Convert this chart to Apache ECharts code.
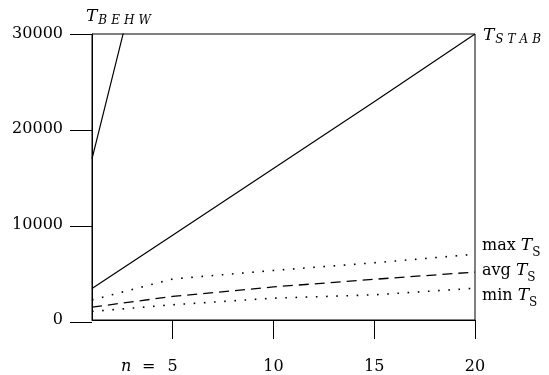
<!DOCTYPE html>
<html>
<head>
<meta charset="utf-8">
<script src="https://cdn.jsdelivr.net/npm/echarts@6/dist/echarts.min.js"></script>
<style>html,body{margin:0;padding:0;background:#fff}#c{width:549px;height:375px}</style>
</head>
<body>
<div id="c"></div>
<script>
var nValues = [1, 5, 10, 15, 20];
var behwN = [1, 2, 3];
var behwValues = [16900, 25400, 33900];
var stabValues = [3300, 8900, 15900, 22900, 30000];
var maxValues = [2100, 4300, 5200, 6000, 6900];
var avgValues = [1350, 2470, 3470, 4270, 5030];
var minValues = [900, 1600, 2290, 2640, 3330];
var xTicks = [5, 10, 15, 20];

var FONT = 'DejaVu Serif';
function pairs(xs, ys) { return xs.map(function (x, i) { return [x, ys[i]]; }); }

var mainTok = { fontFamily: FONT, fontWeight: 'normal', fontSize: 16, color: '#000', lineHeight: 18, verticalAlign: 'bottom', padding: [0, 0, 5, 0] };
var tTok = { fontFamily: FONT, fontWeight: 'normal', fontStyle: 'italic', fontSize: 17, color: '#000', lineHeight: 18, verticalAlign: 'bottom', padding: [0, 0, 5, 0] };
var sTok = { fontFamily: FONT, fontWeight: 'normal', fontSize: 12, color: '#000', lineHeight: 12, verticalAlign: 'bottom' };
var richTS = { m: mainTok, t: tTok, s: sTok };

var capT = { fontFamily: FONT, fontWeight: 'normal', fontStyle: 'italic', fontSize: 17, color: '#000', lineHeight: 18, verticalAlign: 'bottom', padding: [0, 1, 2, 0] };
var capS = { fontFamily: FONT, fontWeight: 'normal', fontStyle: 'italic', fontSize: 12, color: '#000', lineHeight: 12, verticalAlign: 'bottom', padding: [0, 4, 0, 0] };
function capLabel(sub) {
  return '{T|T}' + sub.split('').map(function (c) { return '{c|' + c + '}'; }).join('');
}

var chart = echarts.init(document.getElementById('c'), null, { renderer: 'canvas' });
chart.setOption({
  animation: false,
  backgroundColor: '#fff',
  title: [
    { text: capLabel('BEHW'), left: 86, top: 9, padding: 0, textStyle: { fontWeight: 'normal', rich: { T: capT, c: capS } } },
    { text: 'n', left: 121, top: 358, padding: 0, textStyle: { fontFamily: FONT, fontStyle: 'italic', fontWeight: 'normal', fontSize: 16, lineHeight: 18, color: '#000' } },
    { text: '=', left: 142, top: 358, padding: 0, textStyle: { fontFamily: FONT, fontWeight: 'normal', fontSize: 16, lineHeight: 18, color: '#000' } }
  ],
  grid: [
    { left: 92, right: 74, top: 34, bottom: 53, show: true, borderColor: '#000', borderWidth: 1 },
    { left: 70, width: 22, top: 34, bottom: 53, show: false }
  ],
  xAxis: [{
    type: 'value', min: 1, max: 20, gridIndex: 0,
    axisLine: { show: true, lineStyle: { color: '#000', width: 1 } },
    axisTick: { show: true, inside: false, length: 19, customValues: xTicks, lineStyle: { color: '#000', width: 1 } },
    axisLabel: { customValues: xTicks, margin: 39, color: '#000', fontFamily: FONT, fontSize: 16 },
    splitLine: { show: false }
  }, {
    type: 'value', min: 0, max: 1, gridIndex: 1, show: false
  }],
  yAxis: [{
    type: 'value', min: 0, max: 30000, interval: 10000, gridIndex: 0,
    axisLine: { show: true, lineStyle: { color: '#000', width: 1 } },
    axisTick: { show: false },
    axisLabel: { margin: 29, color: '#000', fontFamily: FONT, fontSize: 16, formatter: function (v) { return String(v); } },
    splitLine: { show: false }
  }, {
    type: 'value', min: 0, max: 30000, interval: 10000, gridIndex: 1,
    axisLine: { show: false }, axisTick: { show: false }, axisLabel: { show: false },
    splitLine: { show: true, lineStyle: { color: '#000', width: 1, type: 'solid' } }
  }],
  series: [
    { type: 'line', name: 'BEHW', data: pairs(behwN, behwValues), showSymbol: false, clip: true,
      lineStyle: { color: '#000', width: 1.2 } },
    { type: 'line', name: 'STAB', data: pairs(nValues, stabValues), showSymbol: false,
      lineStyle: { color: '#000', width: 1.2 },
      endLabel: { show: true, distance: 8, offset: [0, 3], formatter: function () { return capLabel('STAB'); }, rich: { T: capT, c: capS } } },
    { type: 'line', name: 'max', data: pairs(nValues, maxValues), showSymbol: false,
      lineStyle: { color: '#000', width: 1.6, type: [1.6, 8.6] },
      endLabel: { show: true, distance: 7, offset: [0, -4], formatter: '{m|max }{t|T}{s|S}', rich: richTS } },
    { type: 'line', name: 'avg', data: pairs(nValues, avgValues), showSymbol: false,
      lineStyle: { color: '#000', width: 1.3, type: [10, 6] },
      endLabel: { show: true, distance: 7, offset: [0, 3], formatter: '{m|avg }{t|T}{s|S}', rich: richTS } },
    { type: 'line', name: 'min', data: pairs(nValues, minValues), showSymbol: false,
      lineStyle: { color: '#000', width: 1.6, type: [1.6, 8.6] },
      endLabel: { show: true, distance: 7, offset: [0, 12], formatter: '{m|min }{t|T}{s|S}', rich: richTS } }
  ]
});
</script>
</body>
</html>
